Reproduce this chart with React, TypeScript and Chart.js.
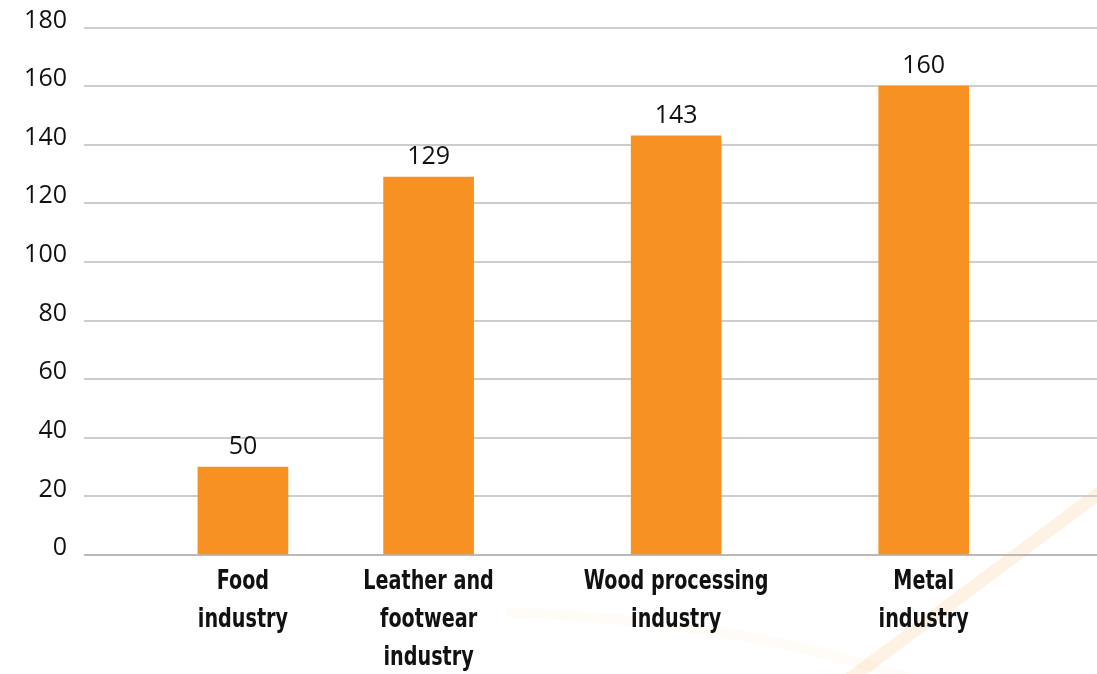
import { useEffect, useRef } from "react";
import { Chart, registerables } from "chart.js";

Chart.register(...registerables);

const categories: string[][] = [
  ["Food", "industry"],
  ["Leather and", "footwear", "industry"],
  ["Wood processing", "industry"],
  ["Metal", "industry"],
];
const barValues = [30, 129, 143, 160];
const valueLabels = ["50", "129", "143", "160"];
const xPositions = [1, 1.75, 2.75, 3.75];
const yMin = 0;
const yMax = 180;
const yStep = 20;

const BAR_COLOR = "#f79122";

const decorationPlugin = {
  id: "decoration",
  beforeDraw(chart: any) {
    const ctx = chart.ctx as CanvasRenderingContext2D;
    const w = chart.width;
    const h = chart.height;
    ctx.save();
    ctx.lineCap = "butt";
    ctx.strokeStyle = "rgba(248,145,32,0.12)";
    ctx.lineWidth = 13;
    ctx.beginPath();
    ctx.moveTo(w - 249, h + 6);
    ctx.lineTo(w + 8, h - 185);
    ctx.stroke();
    ctx.strokeStyle = "rgba(248,145,32,0.035)";
    ctx.lineWidth = 10;
    ctx.beginPath();
    ctx.moveTo(w - 590, h - 62);
    ctx.quadraticCurveTo(w - 330, h - 50, w - 180, h + 8);
    ctx.stroke();
    ctx.restore();
  },
};

const valueLabelPlugin = {
  id: "valueLabels",
  afterDatasetsDraw(chart: any) {
    const ctx = chart.ctx as CanvasRenderingContext2D;
    const meta = chart.getDatasetMeta(0);
    ctx.save();
    ctx.font = "25px 'Open Sans', 'Noto Sans', sans-serif";
    ctx.fillStyle = "#111111";
    ctx.textAlign = "center";
    ctx.textBaseline = "middle";
    meta.data.forEach((bar: any, i: number) => {
      ctx.fillText(valueLabels[i], bar.x, bar.y - 20);
    });
    ctx.restore();
  },
};

// Category labels for the x axis, drawn in a condensed bold face at the scale's tick positions
const categoryLabelPlugin = {
  id: "categoryLabels",
  afterDraw(chart: any) {
    const ctx = chart.ctx as CanvasRenderingContext2D;
    const xScale = chart.scales.x;
    const lineHeight = 38;
    const squeeze = 0.82;
    ctx.save();
    ctx.font = "bold 26px 'DejaVu Sans Condensed', 'DejaVu Sans', sans-serif";
    ctx.fillStyle = "#111111";
    ctx.textAlign = "center";
    ctx.textBaseline = "middle";
    categories.forEach((lines, i) => {
      const cx = xScale.getPixelForValue(xPositions[i]);
      const top = xScale.top + 8 + lineHeight / 2;
      lines.forEach((line, j) => {
        ctx.save();
        ctx.translate(cx, top + j * lineHeight);
        ctx.scale(squeeze, 1);
        ctx.fillText(line, 0, 0);
        ctx.restore();
      });
    });
    ctx.restore();
  },
};

export default function App() {
  const canvasRef = useRef<HTMLCanvasElement | null>(null);

  useEffect(() => {
    if (!canvasRef.current) return;
    const chart = new Chart(canvasRef.current, {
      type: "bar",
      data: {
        datasets: [
          {
            data: barValues.map((v, i) => ({ x: xPositions[i], y: v })),
            backgroundColor: BAR_COLOR,
            borderWidth: 0,
            barThickness: 90,
          } as any,
        ],
      },
      options: {
        animation: false,
        responsive: true,
        maintainAspectRatio: false,
        layout: { padding: { top: 27.5, left: 0, right: 0, bottom: 0 } },
        plugins: {
          legend: { display: false },
          tooltip: { enabled: false },
        },
        scales: {
          x: {
            type: "linear",
            min: 0.358,
            max: 4.45,
            offset: false,
            grid: { display: false, drawTicks: false, offset: false },
            border: { display: false },
            afterBuildTicks: (scale: any) => {
              scale.ticks = xPositions.map((v) => ({ value: v }));
            },
            afterFit: (scale: any) => {
              scale.height = 119;
            },
            ticks: { display: false },
          } as any,
          y: {
            min: yMin,
            max: yMax,
            grid: {
              drawTicks: false,
              lineWidth: 2,
              color: (c: any) => (c.tick && c.tick.value === 0 ? "#b9b9b9" : "#cdcdcd"),
            },
            border: { display: false },
            afterFit: (scale: any) => {
              scale.width = 84;
              scale.paddingTop = 0;
              scale.paddingBottom = 0;
            },
            ticks: {
              stepSize: yStep,
              padding: 17,
              labelOffset: -7,
              color: "#111111",
              font: { family: "'Open Sans', 'Noto Sans', sans-serif", size: 25 },
            },
          } as any,
        },
      },
      plugins: [decorationPlugin, valueLabelPlugin, categoryLabelPlugin],
    });
    return () => chart.destroy();
  }, []);

  return (
    <div style={{ position: "fixed", left: 0, top: 0, width: 1097, height: 674, background: "#ffffff" }}>
      <canvas ref={canvasRef} />
    </div>
  );
}
